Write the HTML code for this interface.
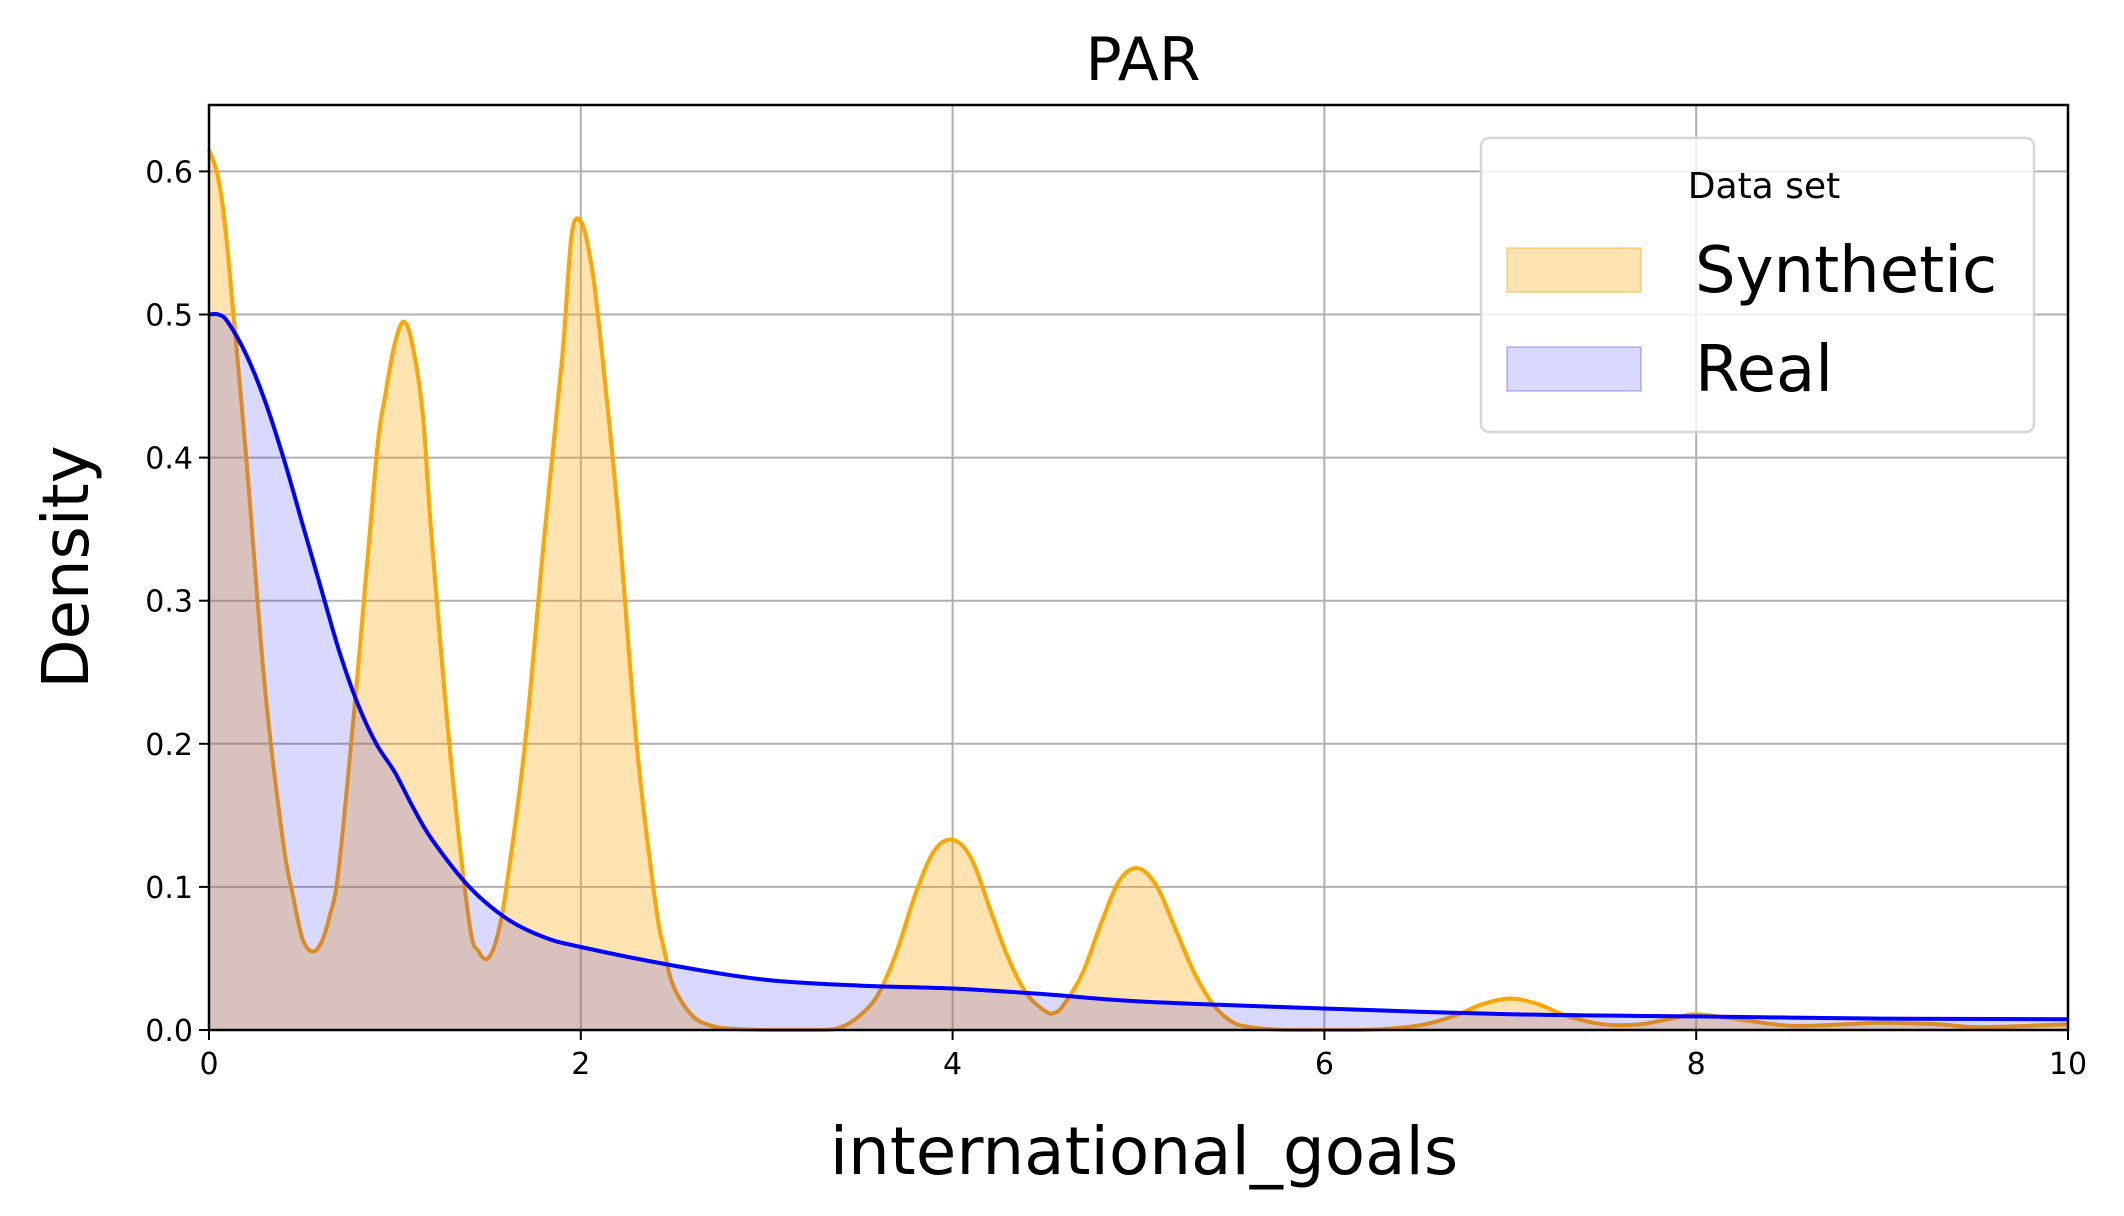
<!DOCTYPE html>
<html><head><meta charset="utf-8"><style>
body{margin:0;background:#fff;}
svg{display:block;font-family:"DejaVu Sans","Liberation Sans",sans-serif;}
</style></head><body>
<svg id="chart" width="2124" height="1216" viewBox="0 0 2124 1216" xmlns="http://www.w3.org/2000/svg">
<rect width="2124" height="1216" fill="#fff"/>
<g id="grid"></g>
<g id="series"></g>
<rect x="209" y="105" width="1859" height="925" fill="none" stroke="#000" stroke-width="2.5"/>
<g id="ticks"></g>
<text x="1143" y="80" font-size="60" text-anchor="middle">PAR</text>
<text x="1144" y="1174" font-size="66" text-anchor="middle">international_goals</text>
<text transform="translate(88,567) rotate(-90)" font-size="64" text-anchor="middle">Density</text>
<g>
<rect x="1481" y="138" width="553" height="294" rx="8" fill="#fff" fill-opacity="0.8" stroke="#d6d6d6" stroke-width="2.5"/>
<text x="1764" y="198" font-size="36" text-anchor="middle">Data set</text>
<rect x="1507" y="248" width="134" height="44" fill="#ffa500" fill-opacity="0.3" stroke="#ffa500" stroke-opacity="0.35" stroke-width="2"/>
<text x="1695" y="292" font-size="64">Synthetic</text>
<rect x="1507" y="347" width="134" height="44" fill="#0000ff" fill-opacity="0.15" stroke="#0000ff" stroke-opacity="0.2" stroke-width="2"/>
<text x="1695" y="391" font-size="64">Real</text>
</g>
</svg>
<script>
const synX=[0,0.05,0.1,0.2,0.3,0.4,0.45,0.5,0.55,0.6,0.65,0.7,0.8,0.9,0.95,1.0,1.05,1.1,1.15,1.2,1.3,1.4,1.45,1.5,1.55,1.6,1.7,1.8,1.9,1.95,2.0,2.05,2.1,2.2,2.3,2.4,2.45,2.5,2.6,2.7,2.8,3.0,3.3,3.4,3.5,3.6,3.7,3.8,3.9,4.0,4.1,4.2,4.3,4.4,4.5,4.55,4.6,4.7,4.8,4.9,5.0,5.1,5.2,5.3,5.4,5.5,5.6,5.8,6.2,6.5,6.7,6.85,7.0,7.15,7.3,7.5,7.7,7.9,8.0,8.2,8.5,8.8,9.0,9.3,9.5,9.8,10];
const synY=[0.615,0.595,0.545,0.40,0.24,0.13,0.095,0.065,0.055,0.06,0.08,0.115,0.25,0.40,0.445,0.48,0.495,0.475,0.43,0.34,0.19,0.075,0.055,0.05,0.065,0.10,0.20,0.34,0.47,0.555,0.565,0.54,0.49,0.36,0.20,0.09,0.055,0.03,0.01,0.003,0.001,0,0,0.002,0.01,0.025,0.055,0.095,0.125,0.133,0.12,0.085,0.05,0.025,0.013,0.012,0.018,0.04,0.075,0.105,0.113,0.10,0.07,0.04,0.018,0.006,0.002,0,0,0.003,0.01,0.018,0.022,0.018,0.01,0.004,0.004,0.009,0.011,0.008,0.003,0.004,0.005,0.004,0.002,0.003,0.004];
const realX=[0,0.05,0.1,0.2,0.3,0.4,0.5,0.6,0.7,0.8,0.9,1.0,1.1,1.2,1.4,1.6,1.8,2.0,2.5,3.0,3.5,4.0,4.5,5.0,6.0,7.0,8.0,9.0,10];
const realY=[0.5,0.5,0.495,0.472,0.44,0.40,0.355,0.31,0.265,0.228,0.2,0.18,0.155,0.133,0.1,0.078,0.065,0.058,0.045,0.035,0.031,0.029,0.025,0.02,0.015,0.011,0.0095,0.008,0.0075];
const xTicks=[0,2,4,6,8,10];
const yTicks=[0,0.1,0.2,0.3,0.4,0.5,0.6];
const X0=209,X1=2068,Y0=1030,Y1=105,XMAX=10,YMAX=0.6464;
const sx=v=>X0+v/XMAX*(X1-X0), sy=v=>Y0-v/YMAX*(Y0-Y1);
const NS='http://www.w3.org/2000/svg';
function mk(tag,attrs,parent){const e=document.createElementNS(NS,tag);for(const k in attrs)e.setAttribute(k,attrs[k]);parent.appendChild(e);return e;}
const grid=document.getElementById('grid'),ticks=document.getElementById('ticks'),ser=document.getElementById('series');
xTicks.forEach(t=>{
 const g=mk('line',{x1:sx(t),x2:sx(t),y1:Y0,y2:Y1,stroke:'#b0b0b0','stroke-width':2},grid);
 
 
 const tk=mk('line',{x1:sx(t),x2:sx(t),y1:Y0,y2:Y0+10,stroke:'#000','stroke-width':2},ticks);
 
 
 const tx=mk('text',{x:sx(t),y:Y0+44,'font-size':30,'text-anchor':'middle'},ticks);
 tx.textContent=String(t);
 
 
});
yTicks.forEach(t=>{
 const g=mk('line',{x1:X0,x2:X1,y1:sy(t),y2:sy(t),stroke:'#b0b0b0','stroke-width':2},grid);
 
 
 const tk=mk('line',{x1:X0-10,x2:X0,y1:sy(t),y2:sy(t),stroke:'#000','stroke-width':2},ticks);
 
 
 const tx=mk('text',{x:X0-16,y:sy(t)+11,'font-size':30,'text-anchor':'end'},ticks);
 tx.textContent=t.toFixed(1);
 
 
});
function smooth(xs,ys){
 const p=xs.map((x,i)=>[sx(x),sy(ys[i])]);
 let d='M'+p[0][0].toFixed(1)+','+p[0][1].toFixed(1);
 for(let i=0;i<p.length-1;i++){
  const p0=p[Math.max(0,i-1)],p1=p[i],p2=p[i+1],p3=p[Math.min(p.length-1,i+2)];
  const c1=[p1[0]+(p2[0]-p0[0])/6,p1[1]+(p2[1]-p0[1])/6];
  const c2=[p2[0]-(p3[0]-p1[0])/6,p2[1]-(p3[1]-p1[1])/6];
  c1[1]=Math.min(c1[1],Y0);c2[1]=Math.min(c2[1],Y0);
  d+=' C'+c1[0].toFixed(1)+','+c1[1].toFixed(1)+' '+c2[0].toFixed(1)+','+c2[1].toFixed(1)+' '+p2[0].toFixed(1)+','+p2[1].toFixed(1);
 }
 return d;
}
function area(xs,ys){return smooth(xs,ys)+' L'+sx(xs[xs.length-1])+','+Y0+' L'+sx(xs[0])+','+Y0+' Z';}
const a1=mk('path',{d:area(synX,synY),fill:'#ffa500','fill-opacity':0.3},ser);


const l1=mk('path',{d:smooth(synX,synY),fill:'none',stroke:'#ffa500','stroke-width':4,'stroke-linejoin':'round'},ser);


const a2=mk('path',{d:area(realX,realY),fill:'#0000ff','fill-opacity':0.15},ser);


const l2=mk('path',{d:smooth(realX,realY),fill:'none',stroke:'#0000ff','stroke-width':4,'stroke-linejoin':'round'},ser);


</script>
</body></html>
